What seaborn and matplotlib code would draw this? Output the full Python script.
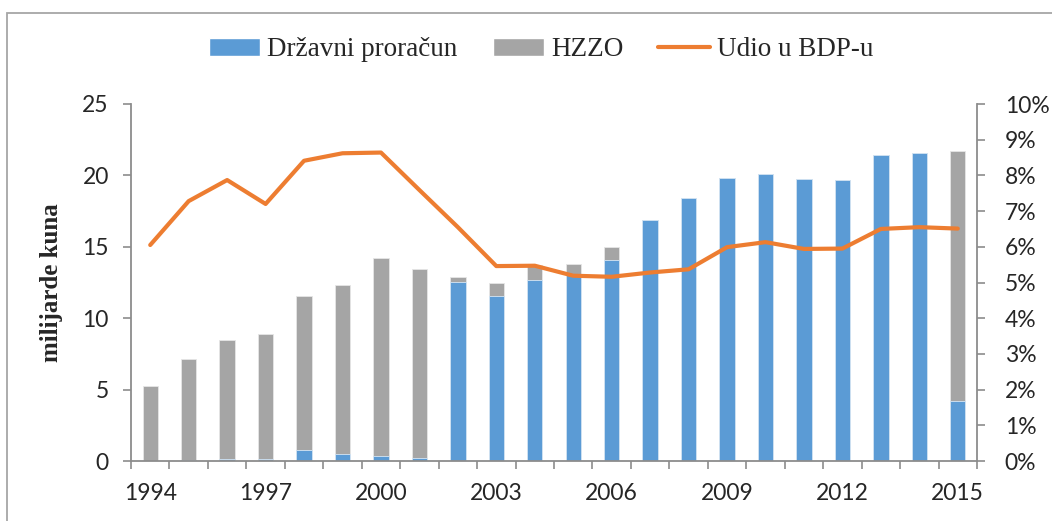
import numpy as np
import pandas as pd
import matplotlib
matplotlib.use("Agg")
import matplotlib.pyplot as plt
from matplotlib.patches import Patch, Rectangle
from matplotlib.lines import Line2D
from matplotlib.ticker import PercentFormatter
import seaborn as sns

# data
years = list(range(1994, 2016))
drzavni = [0.0, 0.05, 0.15, 0.12, 0.77, 0.47, 0.35, 0.23, 12.56, 11.58, 12.68, 13.0,
           14.05, 16.86, 18.42, 19.84, 20.12, 19.72, 19.68, 21.45, 21.55, 4.2]
ukupno = [5.27, 7.14, 8.50, 8.92, 11.55, 12.35, 14.19, 13.45, 12.91, 12.44, 13.7, 13.8,
          15.0, 16.86, 18.42, 19.84, 20.12, 19.72, 19.68, 21.45, 21.55, 21.73]
udio = [6.05, 7.28, 7.87, 7.2, 8.41, 8.62, 8.64, 7.59, 6.55, 5.46, 5.47, 5.19,
        5.16, 5.28, 5.37, 5.99, 6.13, 5.94, 5.95, 6.5, 6.55, 6.51]
label_years = [1994, 1997, 2000, 2003, 2006, 2009, 2012, 2015]

BLUE, GRAY, ORANGE = "#5B9BD5", "#A5A5A5", "#ED7D31"
AXC = "#8C8C8C"

df = pd.DataFrame({"year": [str(y) for y in years], "drzavni": drzavni,
                   "ukupno": ukupno, "udio": udio})

sns.set_style("white")
plt.rcParams["font.family"] = ["Lato", "DejaVu Sans"]

fig = plt.figure(figsize=(10.52, 5.21), dpi=100)
ax = fig.add_axes([131 / 1052, 1 - 461 / 521, 846 / 1052, 357 / 521])

# stacked bars: total (HZZO on top) first, then the state budget part
sns.barplot(data=df, x="year", y="ukupno", color=GRAY, saturation=1, width=0.4,
            edgecolor="#E6E6E6", linewidth=0.6, ax=ax)
sns.barplot(data=df, x="year", y="drzavni", color=BLUE, saturation=1, width=0.4,
            edgecolor="#D6E6F5", linewidth=0.6, ax=ax)

ax2 = ax.twinx()
sns.lineplot(x=df.index, y=df["udio"], color=ORANGE, linewidth=3, ax=ax2)

ax.set_xlim(-0.5, len(years) - 0.5)
ax.set_ylim(0, 25)
ax.set_yticks([0, 5, 10, 15, 20, 25])
ax2.set_ylim(0, 10)
ax2.set_yticks(range(0, 11))
ax2.yaxis.set_major_formatter(PercentFormatter(xmax=100, decimals=0))

# boundary ticks without labels, year labels centred on bars
ax.set_xticks(np.arange(-0.5, len(years), 1))
ax.set_xticklabels([])
pos = [years.index(y) for y in label_years]
ax.set_xticks(pos, minor=True)
ax.set_xticklabels([str(y) for y in label_years], minor=True)

ax.set_xlabel("")
ax2.set_ylabel("")
ax.set_ylabel("milijarde kuna", family=["Liberation Serif"], fontweight="bold",
              fontsize=18, labelpad=14)

for s in ["top", "right"]:
    ax.spines[s].set_visible(False)
for s in ["top", "left", "bottom"]:
    ax2.spines[s].set_visible(False)
for s in [ax.spines["left"], ax.spines["bottom"], ax2.spines["right"]]:
    s.set_color(AXC)
    s.set_linewidth(1.3)

ax.tick_params(axis="x", which="major", direction="out", length=6, width=1.2,
               color=AXC, bottom=True)
ax.tick_params(axis="x", which="minor", length=0, pad=16, labelsize=16.5,
               bottom=True)
ax.tick_params(axis="y", direction="out", length=6, width=1.2, color=AXC,
               left=True, pad=10, labelsize=16.5)
ax2.tick_params(axis="y", direction="out", length=6, width=1.2, color=AXC,
                right=True, pad=14, labelsize=16.5)

handles = [Patch(facecolor=BLUE, label="Državni proračun"),
           Patch(facecolor=GRAY, label="HZZO"),
           Line2D([], [], color=ORANGE, linewidth=3, label="Udio u BDP-u")]
fig.legend(handles=handles, loc="center", bbox_to_anchor=(541 / 1052, 1 - 50 / 521),
           ncol=3, frameon=False, prop={"family": "Liberation Serif", "size": 19.5},
           handlelength=1.9, handleheight=0.67, handletextpad=0.25,
           columnspacing=1.3)

# outer chart frame
fig.patches.append(Rectangle((7 / 1052, -0.1), 1.2, 1 - 13 / 521 + 0.1,
                             transform=fig.transFigure, fill=False,
                             edgecolor="#A6A6A6", linewidth=1.3))

fig.savefig("out.png", dpi=100)
